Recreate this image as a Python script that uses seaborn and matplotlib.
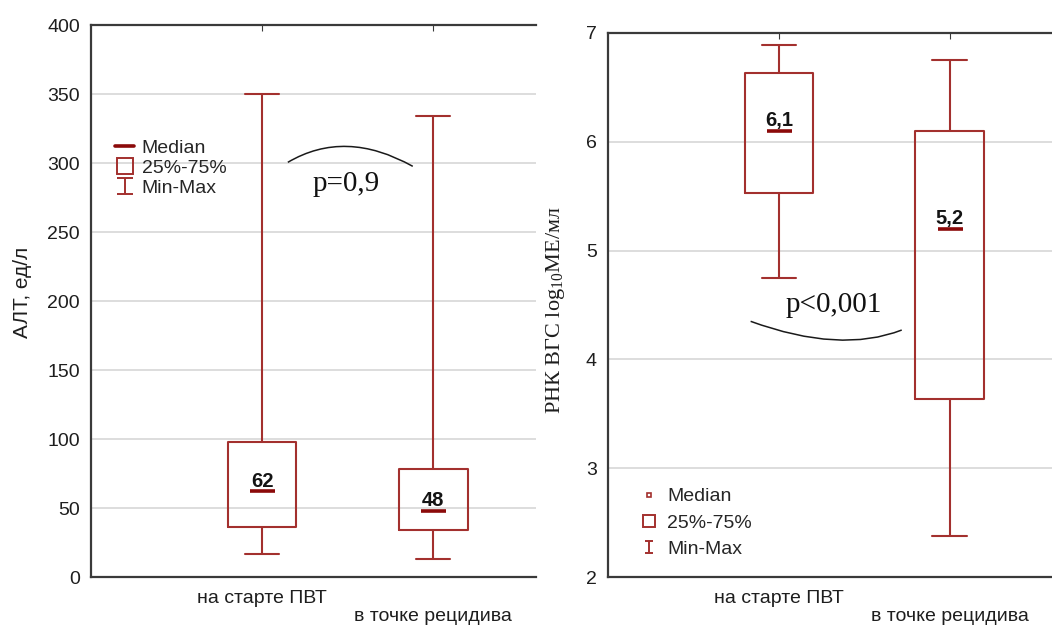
import numpy as np
import pandas as pd
import matplotlib
matplotlib.use("Agg")
import matplotlib.pyplot as plt
from matplotlib.path import Path
from matplotlib.patches import PathPatch
from matplotlib.lines import Line2D
import seaborn as sns

# ---------------------------------------------------------------- data
categories = ["на старте ПВТ", "в точке рецидива"]

# АЛТ, ед/л — min, Q1, median, Q3, max per group
alt_min = [17, 13]
alt_q1 = [36, 34]
alt_median = [62, 48]
alt_q3 = [98, 78]
alt_max = [350, 334]
alt_yticks = [0, 50, 100, 150, 200, 250, 300, 350, 400]

# РНК ВГС, log10 МЕ/мл — min, Q1, median, Q3, max per group
rna_min = [4.75, 2.38]
rna_q1 = [5.53, 3.64]
rna_median = [6.1, 5.2]
rna_q3 = [6.63, 6.1]
rna_max = [6.89, 6.75]
rna_yticks = [2, 3, 4, 5, 6, 7]

alt_p_label = "p=0,9"
rna_p_label = "p<0,001"
legend_labels = ["Median", "25%-75%", "Min-Max"]

# ---------------------------------------------------------------- style
BOX = "#A3302E"
MED = "#8B0A0A"
SPINE = "#3a3a3a"
GRID = "#dadada"
SANS = ["Liberation Sans", "DejaVu Sans"]
SERIF = ["Liberation Serif", "DejaVu Serif"]

sns.set_style("white")
plt.rcParams["font.family"] = SANS
plt.rcParams["mathtext.fontset"] = "custom"
plt.rcParams["mathtext.rm"] = "Liberation Serif"


def five_number_frame(mins, q1s, meds, q3s, maxs):
    """Five points per group: with linear percentiles they reproduce the
    min / quartiles / median / max exactly."""
    rows = []
    for cat, *vals in zip(categories, mins, q1s, meds, q3s, maxs):
        for v in vals:
            rows.append({"group": cat, "value": v})
    return pd.DataFrame(rows)


def minmax_marker(cap):
    return Path([(-cap, -0.5), (cap, -0.5), (0, -0.5), (0, 0.5), (-cap, 0.5), (cap, 0.5)],
                [Path.MOVETO, Path.LINETO, Path.MOVETO, Path.LINETO, Path.MOVETO, Path.LINETO])


def arc(ax, p0, ctrl, p1):
    path = Path([p0, ctrl, p1], [Path.MOVETO, Path.CURVE3, Path.CURVE3])
    ax.add_patch(PathPatch(path, fill=False, lw=1.1, edgecolor="#1a1a1a"))


def draw_panel(ax, df, medians, ylim, yticks, fmt):
    sns.boxplot(data=df, x="group", y="value", order=categories, whis=(0, 100),
                width=0.4, fill=False, color=BOX, linewidth=1.5, showfliers=False,
                medianprops={"visible": False}, ax=ax)
    pos = np.arange(len(categories))
    ax.plot(pos, medians, ls="none", marker="_", ms=18, mew=2.6, color=MED, zorder=4)
    for x, m in zip(pos, medians):
        ax.annotate(fmt(m), (x, m), xytext=(0, 3.5), textcoords="offset points",
                    ha="center", va="baseline", fontsize=14.5, fontweight="bold",
                    color="#141414")
    ax.set_xlim(-1, 1.6)
    ax.set_ylim(*ylim)
    ax.set_yticks(yticks)
    ax.set_xticks(pos)
    ax.set_xticklabels([categories[0], "\n" + categories[1]])
    ax.set_xlabel("")
    ax.yaxis.grid(True, color=GRID, lw=1.3)
    ax.set_axisbelow(True)
    for side in ["left", "top", "bottom"]:
        ax.spines[side].set_color(SPINE)
        ax.spines[side].set_linewidth(1.6)
    ax.spines["right"].set_visible(False)
    ax.tick_params(axis="both", direction="in", length=4, color=SPINE,
                   labelsize=14, labelcolor="#1e1e1e")
    ax.tick_params(axis="y", pad=8)
    ax.tick_params(axis="x", top=True, pad=9)
    for lab in ax.get_xticklabels():
        lab.set_linespacing(1.12)


fig = plt.figure(figsize=(10.52, 6.27), dpi=100)
ax1 = fig.add_axes([0.0865, 0.0797, 0.4230, 0.8804])
ax2 = fig.add_axes([0.5780, 0.0797, 0.4220, 0.8677])

# ---------------------------------------------------------------- АЛТ panel
alt_df = five_number_frame(alt_min, alt_q1, alt_median, alt_q3, alt_max)
draw_panel(ax1, alt_df, alt_median, (0, 400), alt_yticks, lambda v: f"{v:g}")
ax1.set_ylabel("АЛТ, ед/л", fontsize=15, color="#1e1e1e")
ax1.yaxis.set_label_coords(-0.133, 0.516)
arc(ax1, (0.15, 300.5), (0.485, 325), (0.88, 297.6))
ax1.text(0.49, 285, alt_p_label, family=SERIF, fontsize=21, ha="center", va="center",
         color="#111111")

h_med = Line2D([], [], color=MED, lw=2.6)
h_box = Line2D([], [], ls="none", marker="s", mfc="none", mec=BOX, mew=1.4, ms=12)
h_mm = Line2D([], [], ls="none", marker=minmax_marker(0.55), color=BOX, mew=1.4, ms=12)
ax1.legend([h_med, h_box, h_mm], legend_labels, loc="upper left",
           bbox_to_anchor=(0.055, 0.793), frameon=False, fontsize=14,
           handlelength=0.95, handletextpad=0.4, labelspacing=0.12, borderpad=0,
           borderaxespad=0)

# ---------------------------------------------------------------- РНК panel
rna_df = five_number_frame(rna_min, rna_q1, rna_median, rna_q3, rna_max)
draw_panel(ax2, rna_df, rna_median, (2, 7), rna_yticks,
           lambda v: f"{v:.1f}".replace(".", ","))
ax2.set_ylabel("РНК ВГС log$_{\\mathregular{10}}$МЕ/мл", family=SERIF, fontsize=16,
               color="#1e1e1e")
ax2.yaxis.set_label_coords(-0.092, 0.49)
arc(ax2, (-0.165, 4.35), (0.36, 4.05), (0.72, 4.27))
ax2.text(0.32, 4.5, rna_p_label, family=SERIF, fontsize=21, ha="center", va="center",
         color="#111111")

r_med = Line2D([], [], ls="none", marker="s", mfc="none", mec=BOX, mew=1.2, ms=3)
r_box = Line2D([], [], ls="none", marker="s", mfc="none", mec=BOX, mew=1.4, ms=8)
r_mm = Line2D([], [], ls="none", marker=minmax_marker(0.35), color=BOX, mew=1.4, ms=9)
ax2.legend([r_med, r_box, r_mm], legend_labels, loc="upper left",
           bbox_to_anchor=(0.068, 0.164), frameon=False, fontsize=14,
           handlelength=1.1, handletextpad=0.4, labelspacing=0.45, borderpad=0,
           borderaxespad=0)

fig.savefig("out.png", dpi=100)
